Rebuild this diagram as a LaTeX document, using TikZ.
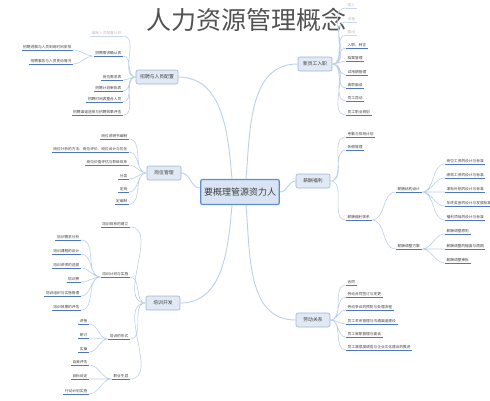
\documentclass[tikz,border=0pt]{standalone}
\usepackage{fontspec}
\newfontfamily\cjk{Noto Sans CJK SC}
\usepackage{xcolor}
\usetikzlibrary{positioning}

\definecolor{linkblue}{HTML}{BBCFE9}
\definecolor{lineblue}{HTML}{4E77BF}
\definecolor{boxfill}{HTML}{E1E9F4}
\definecolor{boxdraw}{HTML}{9DB4D6}
\definecolor{rootfill}{HTML}{D8E4F3}
\definecolor{rootdraw}{HTML}{5E8ECE}

\begin{document}
\begin{tikzpicture}[x=1pt, y=-1pt,
        every node/.style={font=\cjk\fontsize{3.7}{4.2}\selectfont, text=black!75},
        root/.style={draw=rootdraw, fill=rootfill, line width=1.2pt, rounded corners=2pt,
                     minimum width=74pt, minimum height=25pt, font=\cjk\fontsize{9}{10}\selectfont},
        branch/.style={draw=boxdraw, fill=boxfill, line width=0.6pt, rounded corners=2pt,
                       minimum width=34pt, minimum height=14pt, font=\cjk\fontsize{4.8}{5.5}\selectfont},
        uline/.style={draw=lineblue, line width=0.7pt},
        fline/.style={draw=lineblue!30, line width=0.7pt},
        leaf/.style={inner xsep=1.5pt, inner ysep=0.9pt,
                     append after command={(\tikzlastnode.south west) edge[uline] (\tikzlastnode.south east)}},
        fleaf/.style={inner xsep=1.5pt, inner ysep=0.9pt, text=black!25,
                      append after command={(\tikzlastnode.south west) edge[fline] (\tikzlastnode.south east)}},
        leafL/.style={leaf, anchor=south east},
        leafR/.style={leaf, anchor=south west},
        link/.style={draw=linkblue, line width=0.6pt},
        rlink/.style={draw=linkblue, line width=0.9pt},
    ]
        \useasboundingbox (0,0) rectangle (490,400);

        % Title
        \node[font=\cjk\fontsize{25}{27}\selectfont, text=black!68] (title) at (246,20) {人力资源管理概念};

        % Center
        \node[root] (root) at (240,192) {要概理管源资力人};

        % Branches
        \node[branch, minimum width=42pt] (hire) at (157,77) {招聘与人员配置};
        \node[branch] (post) at (164,173) {岗位管理};
        \node[branch] (train) at (163,303) {培训开发};
        \node[branch] (entry) at (315,64) {新员工入职};
        \node[branch] (pay) at (313,181) {薪酬福利};
        \node[branch] (labor) at (313,320) {劳动关系};

        % Hiring
        \node[fleaf, anchor=south east] (hire1) at (123,36) {编制人员配置计划};
        \node[leafL] (hire2) at (123,56) {招聘需求确认表};
        \node[leafL] (hire2a) at (73,50) {招聘进展与人员到岗时间安排};
        \node[leafL] (hire2b) at (73,64) {招聘事务与人员变动情况};
        \node[leafL] (hire3) at (123,80) {岗位需求表};
        \node[leafL] (hire4) at (123,91) {招聘计划审批表};
        \node[leafL] (hire5) at (123,102) {招聘时间表整合人员};
        \node[leafL] (hire6) at (123,115) {招聘渠道选择与招聘效果评估};

        % Posts
        \node[leafL] (post1) at (129,139) {岗位说明书编制};
        \node[leafL] (post2) at (129,152) {岗位分析的方法、岗位评价、岗位设计与优化};
        \node[leafL] (post3) at (129,165) {岗位价值评估与职级体系};
        \node[leafL] (post4) at (129,179) {分类};
        \node[leafL] (post5) at (129,192) {定岗};
        \node[leafL] (post6) at (129,204) {定编制};

        % Training
        \node[leafL] (train1) at (130,227) {培训体系的建立};
        \node[leafL] (train2) at (130,277) {培训计划与实施};
        \node[leafL] (train2a) at (81,240) {培训需求分析};
        \node[leafL] (train2b) at (81,254) {培训课程的设计};
        \node[leafL] (train2c) at (81,268) {培训讲师的选拔};
        \node[leafL] (train2d) at (81,282) {培训费};
        \node[leafL] (train2e) at (81,296) {培训组织与实施管理};
        \node[leafL] (train2f) at (81,310) {培训效果的评估};
        \node[leafL] (train3) at (130,339) {培训的形式};
        \node[leafL] (train3a) at (89,324) {讲授};
        \node[leafL] (train3b) at (89,338) {研讨};
        \node[leafL] (train3c) at (89,352) {实操};
        \node[leafL] (train4) at (130,379) {职业生涯};
        \node[leafL] (train4a) at (89,365) {自我评估};
        \node[leafL] (train4b) at (89,379) {目标设定};
        \node[leafL] (train4c) at (89,394) {行动计划实施};

        % New staff
        \node[fleaf, anchor=south west] (entry1) at (346,8) {输入};
        \node[fleaf, anchor=south west] (entry2) at (346,22) {流程};
        \node[fleaf, anchor=south west] (entry3) at (346,35) {输出};
        \node[leafR] (entry4) at (346,48) {入职、转正};
        \node[leafR] (entry5) at (346,61) {档案管理};
        \node[leafR] (entry6) at (346,75) {试用期管理};
        \node[leafR] (entry7) at (346,88) {离职面谈};
        \node[leafR] (entry8) at (346,101) {员工异动};
        \node[leafR] (entry9) at (346,115) {员工职业规划};

        % Pay
        \node[leafR] (pay1) at (346,137) {考勤与排班计划};
        \node[leafR] (pay2) at (346,150) {休假管理};
        \node[leafR] (pay3) at (346,220) {薪酬福利体系};
        \node[leafR] (pay3a) at (396,192) {薪酬结构设计};
        \node[leafR] (pay3b) at (396,249) {薪酬调整方案};
        \node[leafR] (pay3a1) at (445,164) {岗位工资的设计与标准};
        \node[leafR] (pay3a2) at (445,178) {绩效工资的设计与标准};
        \node[leafR] (pay3a3) at (445,192) {津贴补贴的设计与标准};
        \node[leafR] (pay3a4) at (445,206) {年终奖金的设计与发放标准};
        \node[leafR] (pay3a5) at (445,220) {福利项目的设计与标准};
        \node[leafR] (pay3b1) at (445,234) {薪酬调整原则};
        \node[leafR] (pay3b2) at (445,249) {薪酬调整的幅度与周期};
        \node[leafR] (pay3b3) at (445,263) {薪酬调整审批};

        % Labor
        \node[leafR] (labor1) at (346,285) {合同};
        \node[leafR] (labor2) at (346,297) {劳动合同签订与变更};
        \node[leafR] (labor3) at (346,310) {劳动争议的预防与处理流程};
        \node[leafR] (labor4) at (346,324) {员工关系管理与沟通渠道建设};
        \node[leafR] (labor5) at (346,337) {员工离职管理与面谈};
        \node[leafR] (labor6) at (346,350) {员工满意度调查与企业文化建设的推进};

        % Root links
        \draw[rlink] ([xshift=-8pt]root.north) to[out=95,in=0] (hire.east);
        \draw[rlink] ([xshift=6pt]root.north) to[out=85,in=180] (entry.west);
        \draw[rlink] ([yshift=4pt]root.west) to[out=180,in=0] (post.east);
        \draw[rlink] (root.east) to[out=0,in=180] (pay.west);
        \draw[rlink] ([xshift=-8pt]root.south) to[out=265,in=0] (train.east);
        \draw[rlink] ([xshift=6pt]root.south) to[out=275,in=180] (labor.west);

        % Links, left side
        \draw[link] (hire.west) to[out=180,in=0] (hire1.south east)
                    (hire.west) to[out=180,in=0] (hire2.south east)
                    (hire.west) to[out=180,in=0] (hire3.south east)
                    (hire.west) to[out=180,in=0] (hire4.south east)
                    (hire.west) to[out=180,in=0] (hire5.south east)
                    (hire.west) to[out=180,in=0] (hire6.south east);
        \draw[link] (hire2.south west) to[out=180,in=0] (hire2a.south east)
                    (hire2.south west) to[out=180,in=0] (hire2b.south east);
        \draw[link] (post.west) to[out=180,in=0] (post1.south east)
                    (post.west) to[out=180,in=0] (post2.south east)
                    (post.west) to[out=180,in=0] (post3.south east)
                    (post.west) to[out=180,in=0] (post4.south east)
                    (post.west) to[out=180,in=0] (post5.south east)
                    (post.west) to[out=180,in=0] (post6.south east);
        \draw[link] (train.west) to[out=180,in=0] (train1.south east)
                    (train.west) to[out=180,in=0] (train2.south east)
                    (train.west) to[out=180,in=0] (train3.south east)
                    (train.west) to[out=180,in=0] (train4.south east);
        \draw[link] (train2.south west) to[out=180,in=0] (train2a.south east)
                    (train2.south west) to[out=180,in=0] (train2b.south east)
                    (train2.south west) to[out=180,in=0] (train2c.south east)
                    (train2.south west) to[out=180,in=0] (train2d.south east)
                    (train2.south west) to[out=180,in=0] (train2e.south east)
                    (train2.south west) to[out=180,in=0] (train2f.south east);
        \draw[link] (train3.south west) to[out=180,in=0] (train3a.south east)
                    (train3.south west) to[out=180,in=0] (train3b.south east)
                    (train3.south west) to[out=180,in=0] (train3c.south east);
        \draw[link] (train4.south west) to[out=180,in=0] (train4a.south east)
                    (train4.south west) to[out=180,in=0] (train4b.south east)
                    (train4.south west) to[out=180,in=0] (train4c.south east);

        % Links, right side
        \draw[link] (entry.east) to[out=0,in=180] (entry1.south west)
                    (entry.east) to[out=0,in=180] (entry2.south west)
                    (entry.east) to[out=0,in=180] (entry3.south west)
                    (entry.east) to[out=0,in=180] (entry4.south west)
                    (entry.east) to[out=0,in=180] (entry5.south west)
                    (entry.east) to[out=0,in=180] (entry6.south west)
                    (entry.east) to[out=0,in=180] (entry7.south west)
                    (entry.east) to[out=0,in=180] (entry8.south west)
                    (entry.east) to[out=0,in=180] (entry9.south west);
        \draw[link] (pay.east) to[out=0,in=180] (pay1.south west)
                    (pay.east) to[out=0,in=180] (pay2.south west)
                    (pay.east) to[out=0,in=180] (pay3.south west);
        \draw[link] (pay3.south east) to[out=0,in=180] (pay3a.south west)
                    (pay3.south east) to[out=0,in=180] (pay3b.south west);
        \draw[link] (pay3a.south east) to[out=0,in=180] (pay3a1.south west)
                    (pay3a.south east) to[out=0,in=180] (pay3a2.south west)
                    (pay3a.south east) to[out=0,in=180] (pay3a3.south west)
                    (pay3a.south east) to[out=0,in=180] (pay3a4.south west)
                    (pay3a.south east) to[out=0,in=180] (pay3a5.south west);
        \draw[link] (pay3b.south east) to[out=0,in=180] (pay3b1.south west)
                    (pay3b.south east) to[out=0,in=180] (pay3b2.south west)
                    (pay3b.south east) to[out=0,in=180] (pay3b3.south west);
        \draw[link] (labor.east) to[out=0,in=180] (labor1.south west)
                    (labor.east) to[out=0,in=180] (labor2.south west)
                    (labor.east) to[out=0,in=180] (labor3.south west)
                    (labor.east) to[out=0,in=180] (labor4.south west)
                    (labor.east) to[out=0,in=180] (labor5.south west)
                    (labor.east) to[out=0,in=180] (labor6.south west);
    \end{tikzpicture}
\end{document}
